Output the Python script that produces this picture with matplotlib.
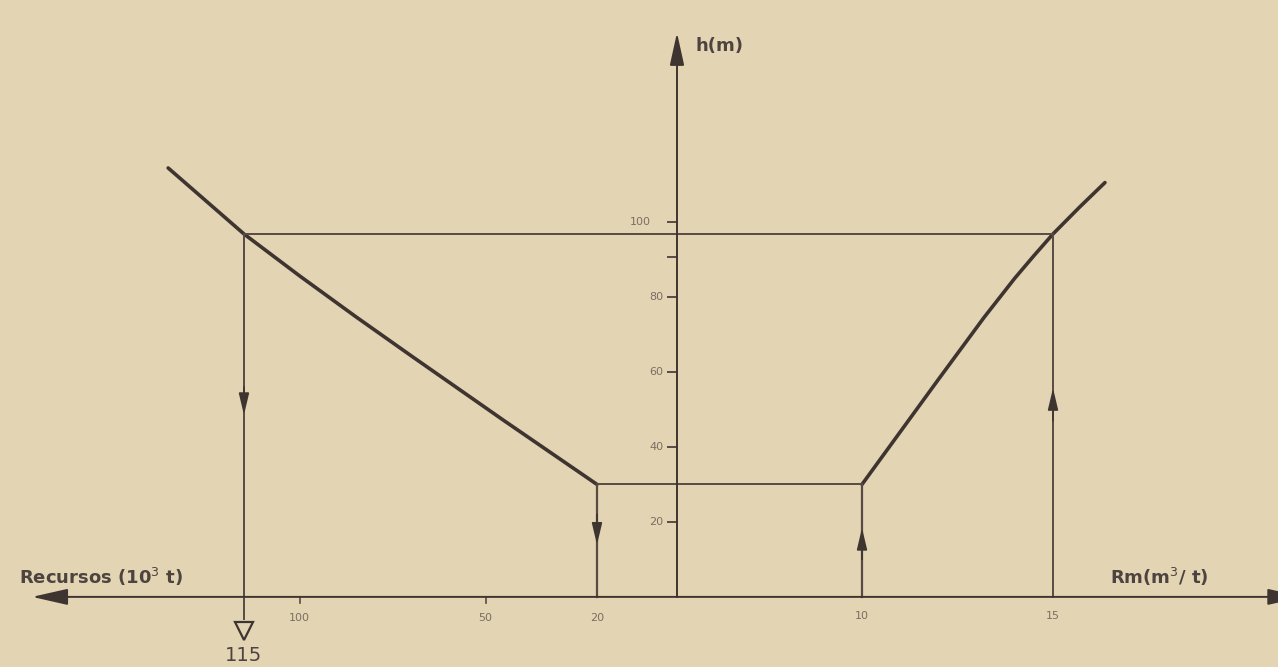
import matplotlib.pyplot as plt

# curve h(recursos) on the left half, h(Rm) on the right half
recursos_curve = [135.4, 115, 100, 85, 70, 45, 20]
h_recursos = [114.4, 96.8, 85.6, 74.8, 64.3, 47.0, 30.0]

rm_curve = [10, 12, 13.2, 14.0, 14.5, 15, 15.7, 16.36]
h_rm = [30.0, 58.0, 74.6, 85.0, 91.0, 96.8, 104.0, 110.5]

h_ticks = [20, 40, 60, 80, 100]
recursos_ticks = [100, 50, 20]
rm_ticks = [10, 15]

h_top = 96.8        # upper horizontal line
h_bottom = 30.0     # lower horizontal line
recursos_max = 115  # read-off result
rm_max = 15
recursos_min = 20
rm_min = 10

bg = '#e3d4b4'
ink = '#3f3530'
thin = '#574b43'
grey = '#7a6e62'
label_c = '#4d4440'

W, H = 1278, 667
x0 = 677 / W
fig = plt.figure(figsize=(W / 100, H / 100), dpi=100, facecolor=bg)

axL = fig.add_axes([0, 0, x0, 1])
axR = fig.add_axes([x0, 0, 1 - x0, 1])
ylim = (-18.7, 159.2)
l0 = -1.53          # recursos value sitting on the vertical axis
r0 = 5.157          # Rm value sitting on the vertical axis
axL.set_xlim(180.65, l0)
axR.set_xlim(r0, 20.89)
for ax in (axL, axR):
    ax.set_ylim(*ylim)
    ax.axis('off')
    ax.patch.set_alpha(0)

# thick curves
axL.plot(recursos_curve, h_recursos, color=ink, lw=2.6, solid_capstyle='round',
         solid_joinstyle='round')
axR.plot(rm_curve, h_rm, color=ink, lw=2.6, solid_capstyle='round',
         solid_joinstyle='round')

# horizontal construction lines
axL.plot([recursos_max, l0], [h_top, h_top], color=thin, lw=1.4)
axR.plot([r0, rm_max], [h_top, h_top], color=thin, lw=1.4)
axL.plot([recursos_min, l0], [h_bottom, h_bottom], color=thin, lw=1.4)
axR.plot([r0, rm_min], [h_bottom, h_bottom], color=thin, lw=1.4)

# vertical construction lines
axL.plot([recursos_max, recursos_max], [h_top, -6.0], color=thin, lw=1.4)
axL.plot([recursos_min, recursos_min], [h_bottom, 0], color=thin, lw=1.6)
axR.plot([rm_min, rm_min], [0, h_bottom], color=thin, lw=1.6)
axR.plot([rm_max, rm_max], [0, h_top], color=thin, lw=1.4)


def mid_arrow(ax, x, tip, base):
    ax.annotate('', xy=(x, tip), xytext=(x, base),
                arrowprops=dict(arrowstyle='-|>,head_length=1.1,head_width=0.26',
                                mutation_scale=12, color=ink, lw=1.2,
                                shrinkA=0, shrinkB=0))


mid_arrow(axL, recursos_max, 48.5, 56)
mid_arrow(axL, recursos_min, 13.9, 22)
mid_arrow(axR, rm_min, 18.4, 10)
mid_arrow(axR, rm_max, 55.7, 47)

# open arrowhead below the axis at the result
axL.plot([recursos_max], [-9.0], marker='v', markersize=13, mfc=bg, mec=ink, mew=1.6)
axL.text(recursos_max, -15.5, str(recursos_max), ha='center', va='center',
         fontsize=14, color=label_c)

# axes with arrowheads
arrow_kw = dict(mutation_scale=20, color=ink, lw=1.4, shrinkA=0, shrinkB=0)
axL.annotate('', xy=(172, 0), xytext=(l0, 0), annotation_clip=False,
             arrowprops=dict(arrowstyle='-|>,head_length=1.1,head_width=0.25', **arrow_kw))
axR.annotate('', xy=(21.55, 0), xytext=(r0, 0), annotation_clip=False,
             arrowprops=dict(arrowstyle='-|>,head_length=1.1,head_width=0.25', **arrow_kw))
axR.annotate('', xy=(r0, 150.5), xytext=(r0, 0), annotation_clip=False,
             arrowprops=dict(arrowstyle='-|>,head_length=1.0,head_width=0.22', **arrow_kw))

# h ticks (left side of the vertical axis)
for h in h_ticks + [90.7]:
    axL.plot([l0, 0.8], [h, h], color=thin, lw=1.4)
for h in h_ticks:
    axL.text(2.2 if h != 100 else 5.5, h, str(h), ha='right', va='center',
             fontsize=8, color=grey)

# x ticks
for r in recursos_ticks:
    if r != recursos_min:
        axL.plot([r, r], [0, -1.5], color=thin, lw=1.2)
    axL.text(r, -5.6, str(r), ha='center', va='center', fontsize=8, color=grey)
for r in rm_ticks:
    axR.text(r, -5.0, str(r), ha='center', va='center', fontsize=8, color=grey)

# axis titles
axL.text(175.5, 5.3, 'Recursos (10$^3$ t)', ha='left', va='center',
         fontsize=13, color=label_c, fontweight='semibold')
axR.text(16.5, 5.3, 'Rm(m$^3$/ t)', ha='left', va='center',
         fontsize=13, color=label_c, fontweight='semibold')
axR.text(5.65, 147.0, 'h(m)', ha='left', va='center',
         fontsize=13, color=label_c, fontweight='semibold')

fig.savefig('out.png', dpi=100, facecolor=bg)
